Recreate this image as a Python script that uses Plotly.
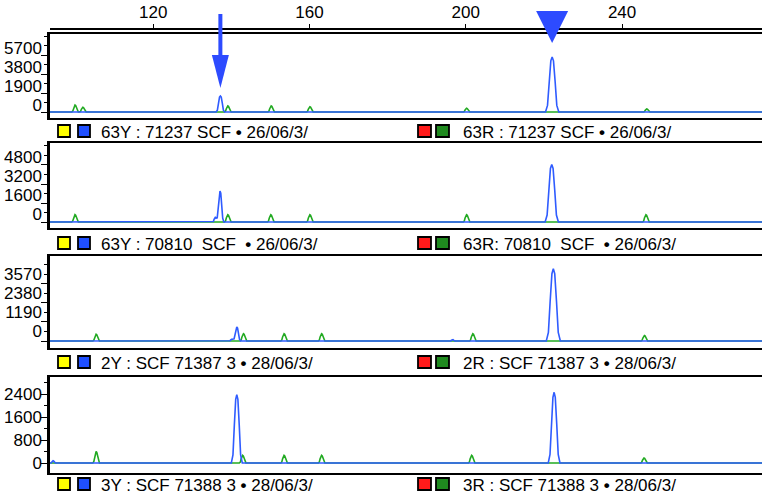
import plotly.graph_objects as go

W, H = 762, 498

# ---------------- data ----------------
x_ticks = [120, 160, 200, 240]
x_range = [93.6, 275.8]

# Panel 1
p1_blue_pos = [137.2, 222.1]
p1_blue_h = [1600, 5500]
p1_blue_w = [1.1, 1.7]
p1_green_pos = [100.0, 102.0, 139.1, 150.2, 160.1, 200.2, 246.3]
p1_green_h = [700, 470, 600, 600, 530, 370, 300]
p1_yticks = [0, 1900, 3800, 5700]

# Panel 2
p2_blue_pos = [135.9, 137.1, 222.0]
p2_blue_h = [400, 2600, 4850]
p2_blue_w = [0.7, 1.0, 1.7]
p2_green_pos = [100.0, 139.1, 150.1, 160.1, 200.2, 246.1]
p2_green_h = [620, 620, 620, 620, 620, 620]
p2_yticks = [0, 1600, 3200, 4800]

# Panel 3
p3_blue_pos = [140.2, 141.4, 196.6, 222.4]
p3_blue_h = [120, 875, 90, 4530]
p3_blue_w = [0.8, 1.0, 0.6, 1.8]
p3_green_pos = [105.4, 143.1, 153.5, 163.1, 201.8, 245.7]
p3_green_h = [420, 460, 460, 460, 460, 340]
p3_yticks = [0, 1190, 2380, 3570]

# Panel 4
p4_blue_pos = [94.4, 141.4, 222.6]
p4_blue_h = [80, 2380, 2460]
p4_blue_w = [0.6, 1.4, 1.5]
p4_green_pos = [105.4, 142.9, 153.5, 163.1, 201.5, 245.6]
p4_green_h = [400, 265, 265, 265, 265, 175]
p4_yticks = [0, 800, 1600, 2400]

green_w = 0.85

# peak outline (relative offset within half-width, fraction of height)
peak_dx = [-1.0, -0.7, -0.45, -0.2, 0.0, 0.2, 0.45, 0.7, 1.0]
peak_frac = [0.0, 0.12, 0.55, 0.93, 1.0, 0.93, 0.55, 0.12, 0.0]

BUL = "<b>•</b>"
legend_left = [f"63Y : 71237 SCF {BUL} 26/06/3/",
               f"63Y : 70810\u00a0 SCF \u00a0{BUL} 26/06/3/",
               f"2Y : SCF 71387 3 {BUL} 28/06/3/",
               f"3Y : SCF 71388 3 {BUL} 28/06/3/"]
legend_right = [f"63R : 71237 SCF {BUL} 26/06/3/",
                f"63R: 70810\u00a0 SCF \u00a0{BUL} 26/06/3/",
                f"2R : SCF 71387 3 {BUL} 28/06/3/",
                f"3R : SCF 71388 3 {BUL} 28/06/3/"]

arrow_at = 137.2
triangle_at = 222.1

# ---------------- layout geometry (pixels) ----------------
panels = [
    dict(top=34, bottom=118, base=112, scale=100.0, shift=-7, minor=950,
         blue=(p1_blue_pos, p1_blue_h, p1_blue_w), green=(p1_green_pos, p1_green_h), ticks=p1_yticks),
    dict(top=143, bottom=228, base=222, scale=84.2, shift=-8, minor=800,
         blue=(p2_blue_pos, p2_blue_h, p2_blue_w), green=(p2_green_pos, p2_green_h), ticks=p2_yticks),
    dict(top=256, bottom=348, base=341, scale=62.6, shift=-10, minor=595,
         blue=(p3_blue_pos, p3_blue_h, p3_blue_w), green=(p3_green_pos, p3_green_h), ticks=p3_yticks),
    dict(top=377, bottom=473, base=463, scale=34.8, shift=0, minor=400,
         blue=(p4_blue_pos, p4_blue_h, p4_blue_w), green=(p4_green_pos, p4_green_h), ticks=p4_yticks),
]
legend_rows_y = [131, 243, 362, 484]

BLUE = "#2f5cff"
GREEN = "#22aa22"
ARROW = "#2d4bff"
FONT = "Liberation Sans, Arial, sans-serif"


def py(ypix):
    return 1 - ypix / H


def px(xpix):
    return xpix / W


def profile(pos, hts, wds):
    pts = {x_range[0], x_range[1]}
    for p, w in zip(pos, wds):
        pts.update(p + d * w for d in peak_dx)
    xs = sorted(pts)
    ys = []
    for x in xs:
        v = 0.0
        for p, h, w in zip(pos, hts, wds):
            r = (x - p) / w
            if -1 < r < 1:
                for k in range(len(peak_dx) - 1):
                    a, b = peak_dx[k], peak_dx[k + 1]
                    if a <= r <= b:
                        t = (r - a) / (b - a)
                        v += h * (peak_frac[k] + t * (peak_frac[k + 1] - peak_frac[k]))
                        break
        ys.append(v)
    return xs, ys


fig = go.Figure()
layout = dict(
    width=W, height=H, autosize=False,
    margin=dict(l=0, r=0, t=0, b=0, autoexpand=False),
    paper_bgcolor="white", plot_bgcolor="white",
    showlegend=False,
    font=dict(family=FONT, size=17, color="black"),
)

dom_x = [px(50), 1.0]
for i, pn in enumerate(panels):
    n = i + 1
    xa = "x" if n == 1 else f"x{n}"
    ya = "y" if n == 1 else f"y{n}"
    gx, gy = profile(pn["green"][0], pn["green"][1], [green_w] * len(pn["green"][0]))
    bx, by = profile(*pn["blue"])
    fig.add_trace(go.Scatter(x=gx, y=gy, mode="lines", xaxis=xa, yaxis=ya,
                             line=dict(color=GREEN, width=1.6),
                             hoverinfo="skip"))
    fig.add_trace(go.Scatter(x=bx, y=by, mode="lines", xaxis=xa, yaxis=ya,
                             line=dict(color=BLUE, width=1.6),
                             hoverinfo="skip"))
    yr = [-(pn["bottom"] - pn["base"]) * pn["scale"], (pn["base"] - pn["top"]) * pn["scale"]]
    xkey = "xaxis" if n == 1 else f"xaxis{n}"
    ykey = "yaxis" if n == 1 else f"yaxis{n}"
    layout[xkey] = dict(domain=dom_x, range=x_range, anchor=ya, automargin=False,
                        showgrid=False, zeroline=False, showticklabels=False, ticks="",
                        showline=True, mirror=True, linecolor="black", linewidth=1.5,
                        fixedrange=True, **({} if n == 1 else {"matches": "x"}))
    layout[ykey] = dict(domain=[py(pn["bottom"]), py(pn["top"])], range=yr, anchor=xa,
                        automargin=False, showgrid=False, zeroline=False,
                        tickmode="array", tickvals=pn["ticks"], ticktext=[str(t) for t in pn["ticks"]],
                        ticks="outside", ticklen=6, tickwidth=1.2, tickcolor="black",
                        minor=dict(ticks="outside", ticklen=3, tickwidth=1, tickcolor="black",
                                   dtick=pn["minor"], tick0=0),
                        showline=True, linecolor="black", linewidth=2.5,
                        ticklabelshift=pn["shift"], ticklabelstandoff=-4,
                        tickfont=dict(family=FONT, size=17, color="black"),
                        fixedrange=True)

# top size axis
fig.add_trace(go.Scatter(x=[], y=[], xaxis="x5", yaxis="y", hoverinfo="skip"))
layout["xaxis5"] = dict(overlaying="x", anchor="free", position=py(29), side="top",
                        range=x_range, showgrid=False, zeroline=False, automargin=False,
                        tickmode="array", tickvals=x_ticks, ticktext=[str(t) for t in x_ticks],
                        ticks="outside", ticklen=4, tickwidth=1.2, tickcolor="black",
                        showline=True, linecolor="black", linewidth=1.5,
                        ticklabelstandoff=-1,
                        tickfont=dict(family=FONT, size=17, color="black"), fixedrange=True)

shapes = []
annotations = []
# legend rows
for yrow, tl, tr in zip(legend_rows_y, legend_left, legend_right):
    for (x0, x1, col) in [(58, 70, "#ffff00"), (78, 90, "#1f4fff"),
                          (418, 431, "#ff1a1a"), (436, 449, "#1f8a1f")]:
        shapes.append(dict(type="rect", xref="paper", yref="paper",
                           x0=px(x0), x1=px(x1), y0=py(yrow + 6), y1=py(yrow - 6),
                           fillcolor=col, line=dict(color="black", width=1.8)))
    annotations.append(dict(text=tl, xref="paper", yref="paper", x=px(99), y=py(yrow + 1.5),
                            xanchor="left", yanchor="middle", showarrow=False,
                            font=dict(family=FONT, size=17, color="black")))
    annotations.append(dict(text=tr, xref="paper", yref="paper", x=px(461), y=py(yrow + 1.5),
                            xanchor="left", yanchor="middle", showarrow=False,
                            font=dict(family=FONT, size=17, color="black")))

# arrow above first peak
upx = (x_range[1] - x_range[0]) / (W - 50)  # data units per pixel
shapes.append(dict(type="rect", xref="x", yref="paper",
                   x0=arrow_at - 2 * upx, x1=arrow_at + 2 * upx, y0=py(57), y1=py(14),
                   fillcolor=ARROW, line=dict(width=0)))
shapes.append(dict(type="path", xref="x", yref="paper",
                   path=f"M {arrow_at - 8.5 * upx} {py(55)} L {arrow_at + 8.5 * upx} {py(55)} "
                        f"L {arrow_at} {py(88)} Z",
                   fillcolor=ARROW, line=dict(width=0)))
# triangle above second peak
shapes.append(dict(type="path", xref="x", yref="paper",
                   path=f"M {triangle_at - 16 * upx} {py(11)} L {triangle_at + 16 * upx} {py(11)} "
                        f"L {triangle_at} {py(43)} Z",
                   fillcolor=ARROW, line=dict(width=0)))

layout["shapes"] = shapes
layout["annotations"] = annotations
fig.update_layout(**layout)
fig.write_html("out.html", config={"displayModeBar": False},
               post_script="document.body.style.margin='0';document.body.style.overflow='hidden';")
